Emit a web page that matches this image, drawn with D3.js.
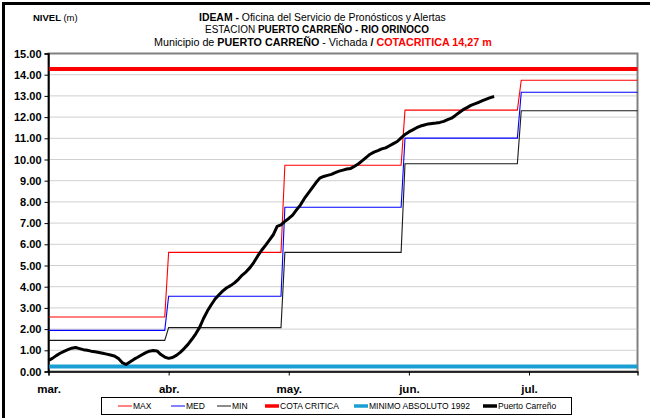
<!DOCTYPE html>
<html>
<head>
<meta charset="utf-8">
<script src="https://cdn.jsdelivr.net/npm/d3@7/dist/d3.min.js"></script>
<style>
  html, body { margin: 0; padding: 0; background: #fff; }
  svg { display: block; }
  text { font-family: "Liberation Sans Narrow", "Arial Narrow", "Liberation Sans", Arial, sans-serif; }
</style>
</head>
<body>
<svg id="chart" width="650" height="418"></svg>
<script>
// Month ticks on the day axis (day 0 = 1 March)
const monthLabels = ["mar.", "abr.", "may.", "jun.", "jul."];
const tickDays = [0, 31, 62, 93, 124];
const lastDay = 152;

// Monthly reference levels (m), each held from the first day of the month
const monthStart = [0, 31, 61, 92, 122];
const maxLevel = [2.57, 5.62, 9.73, 12.33, 13.74];
const medLevel = [1.94, 3.55, 7.75, 11.01, 13.17];
const minLevel = [1.47, 2.07, 5.62, 9.80, 12.30];

const cotaCritica = 14.27;
const minimoAbsoluto = 0.24;

// Daily stage at Puerto Carreño (m), from 1 March
const puertoCarreno = [
  0.52, 0.62, 0.75, 0.86, 0.95, 1.03, 1.10, 1.13, 1.08, 1.03,
  1.00, 0.96, 0.93, 0.90, 0.86, 0.82, 0.78, 0.73, 0.62, 0.42,
  0.33, 0.45, 0.57, 0.67, 0.78, 0.88, 0.96, 0.99, 0.97, 0.80,
  0.68, 0.62, 0.66, 0.76, 0.90, 1.08, 1.28, 1.52, 1.78, 2.08,
  2.50, 2.85, 3.15, 3.42, 3.62, 3.80, 3.95, 4.05, 4.18, 4.35,
  4.55, 4.70, 4.90, 5.15, 5.45, 5.72, 5.95, 6.20, 6.45, 6.85,
  6.92, 7.08, 7.22, 7.38, 7.62, 7.85, 8.15, 8.40, 8.65, 8.90,
  9.12, 9.20, 9.25, 9.30, 9.38, 9.45, 9.50, 9.55, 9.58, 9.68,
  9.80, 9.95, 10.10, 10.25, 10.35, 10.42, 10.50, 10.55, 10.65, 10.75,
  10.85, 11.02, 11.18, 11.30, 11.40, 11.50, 11.58, 11.63, 11.68, 11.70,
  11.72, 11.75, 11.80, 11.88, 11.95, 12.08, 12.22, 12.35, 12.45, 12.55,
  12.62, 12.70, 12.78, 12.85, 12.92, 12.97
];

const yTicks = d3.range(0, 16, 1);

const svg = d3.select("#chart");
const plot = { left: 48.5, right: 637.5, top: 53.5, bottom: 371.5 };

const x = d3.scaleLinear().domain([0, lastDay]).range([plot.left, plot.right]);
const y = d3.scaleLinear().domain([0, 15]).range([plot.bottom, plot.top]);

// Outer frame (top and left edges)
svg.append("line").attr("x1", 3.5).attr("x2", 650).attr("y1", 3.5).attr("y2", 3.5)
  .attr("stroke", "#000").attr("stroke-width", 3);
svg.append("line").attr("x1", 3.5).attr("x2", 3.5).attr("y1", 2).attr("y2", 418)
  .attr("stroke", "#000").attr("stroke-width", 3);

// Title block: each line is condensed horizontally to a narrow-face width
function titleLine(parts, left, width, baseline) {
  const t = svg.append("text").attr("x", 0).attr("y", 0)
    .attr("font-size", 11.5).attr("fill", "#000");
  parts.forEach(p => {
    const s = t.append("tspan").text(p.text);
    if (p.bold) s.attr("font-weight", "bold");
    if (p.color) s.attr("fill", p.color);
  });
  const natural = t.node().getComputedTextLength();
  t.attr("transform", `translate(${left},${baseline}) scale(${width / natural},1)`);
}
titleLine([
  { text: "IDEAM - ", bold: true },
  { text: "Oficina del Servicio de Pronósticos y Alertas" }
], 199, 247, 21);
titleLine([
  { text: "ESTACION " },
  { text: "PUERTO CARREÑO - RIO ORINOCO", bold: true }
], 205, 224, 33);
titleLine([
  { text: "Municipio de " },
  { text: "PUERTO CARREÑO", bold: true },
  { text: " - Vichada " },
  { text: " /  ", bold: true },
  { text: "COTACRITICA 14,27 m", bold: true, color: "#ff0000" }
], 154, 338, 46);

const yl = svg.append("text").attr("x", 33).attr("y", 21).attr("font-size", 9.5);
yl.append("tspan").attr("font-weight", "bold").text("NIVEL ");
yl.append("tspan").text("(m)");

// Plot area frame
svg.append("rect")
  .attr("x", plot.left).attr("y", plot.top)
  .attr("width", plot.right - plot.left).attr("height", plot.bottom - plot.top)
  .attr("fill", "#fff").attr("stroke", "#808080").attr("stroke-width", 2);

// Horizontal gridlines
svg.append("g").selectAll("line")
  .data(yTicks.filter(v => v > 0 && v < 15))
  .join("line")
  .attr("x1", plot.left).attr("x2", plot.right)
  .attr("y1", d => y(d)).attr("y2", d => y(d))
  .attr("stroke", "#a0a0a0").attr("stroke-width", 1).attr("stroke-dasharray", "1,1");

// Y axis
const yAxis = svg.append("g")
  .attr("transform", `translate(${plot.left},0)`)
  .call(d3.axisLeft(y).tickValues(yTicks).tickFormat(d3.format(".2f")).tickSize(4).tickPadding(3));
yAxis.select(".domain").attr("stroke", "#000").attr("stroke-width", 1.3);
yAxis.selectAll(".tick line").attr("stroke", "#000");
yAxis.selectAll("text").attr("font-size", 11).attr("font-weight", "bold").attr("fill", "#000")
  .style("font-family", "'Liberation Sans', Arial, sans-serif");

// X axis
const xAxis = svg.append("g")
  .attr("transform", `translate(0,${plot.bottom})`)
  .call(d3.axisBottom(x).tickValues(tickDays)
    .tickFormat((d, i) => monthLabels[i]).tickSize(4).tickPadding(9));
xAxis.select(".domain").attr("stroke", "#000").attr("stroke-width", 1.3);
xAxis.selectAll(".tick line").attr("stroke", "#000");
xAxis.selectAll("text").attr("font-size", 11.5).attr("font-weight", "bold").attr("fill", "#000");

// Step series for the monthly reference levels
function stepPoints(levels) {
  const pts = [];
  levels.forEach((v, i) => {
    const start = monthStart[i];
    const end = i + 1 < monthStart.length ? monthStart[i + 1] - 1 : lastDay;
    pts.push([start, v], [end, v]);
  });
  return pts;
}
const line = d3.line().x(d => x(d[0])).y(d => y(d[1]));

const stepSeries = [
  { levels: maxLevel, color: "#ff0000" },
  { levels: medLevel, color: "#0000ff" },
  { levels: minLevel, color: "#1a1a1a" }
];
svg.append("g").selectAll("path")
  .data(stepSeries)
  .join("path")
  .attr("d", s => line(stepPoints(s.levels)))
  .attr("fill", "none").attr("stroke", s => s.color).attr("stroke-width", 1.1);

// Critical level and historical minimum
svg.append("line")
  .attr("x1", plot.left).attr("x2", plot.right)
  .attr("y1", y(cotaCritica)).attr("y2", y(cotaCritica))
  .attr("stroke", "#ff0000").attr("stroke-width", 4);
svg.append("line")
  .attr("x1", plot.left).attr("x2", plot.right)
  .attr("y1", y(minimoAbsoluto)).attr("y2", y(minimoAbsoluto))
  .attr("stroke", "#1b9fd3").attr("stroke-width", 4);

// Observed stage
svg.append("path")
  .datum(puertoCarreno.map((v, i) => [i, v]))
  .attr("d", line)
  .attr("fill", "none").attr("stroke", "#000").attr("stroke-width", 3)
  .attr("stroke-linejoin", "round");

// Redraw the left axis line on top of the series
svg.append("line").attr("x1", plot.left).attr("x2", plot.left)
  .attr("y1", plot.top).attr("y2", plot.bottom).attr("stroke", "#000").attr("stroke-width", 1.3);

// Legend
const legendItems = [
  { name: "MAX", color: "#ff5a5a", w: 1.5, x: 118 },
  { name: "MED", color: "#5a5aff", w: 1.5, x: 171 },
  { name: "MIN", color: "#666666", w: 1.5, x: 217 },
  { name: "COTA CRITICA", color: "#ff0000", w: 3.5, x: 265 },
  { name: "MINIMO ABSOLUTO 1992", color: "#1b9fd3", w: 3.5, x: 354 },
  { name: "Puerto Carreño", color: "#000", w: 3.5, x: 483 }
];
const legend = svg.append("g");
legend.append("rect").attr("x", 101.5).attr("y", 397.5).attr("width", 470).attr("height", 17)
  .attr("fill", "#fff").attr("stroke", "#000").attr("stroke-width", 1);
const li = legend.selectAll("g.item").data(legendItems).join("g").attr("class", "item");
li.append("line")
  .attr("x1", d => d.x).attr("x2", d => d.x + 14)
  .attr("y1", 406).attr("y2", 406)
  .attr("stroke", d => d.color).attr("stroke-width", d => d.w);
li.append("text")
  .attr("x", d => d.x + 15).attr("y", 409)
  .attr("font-size", 8.5).attr("fill", "#000")
  .text(d => d.name);
</script>
</body>
</html>
